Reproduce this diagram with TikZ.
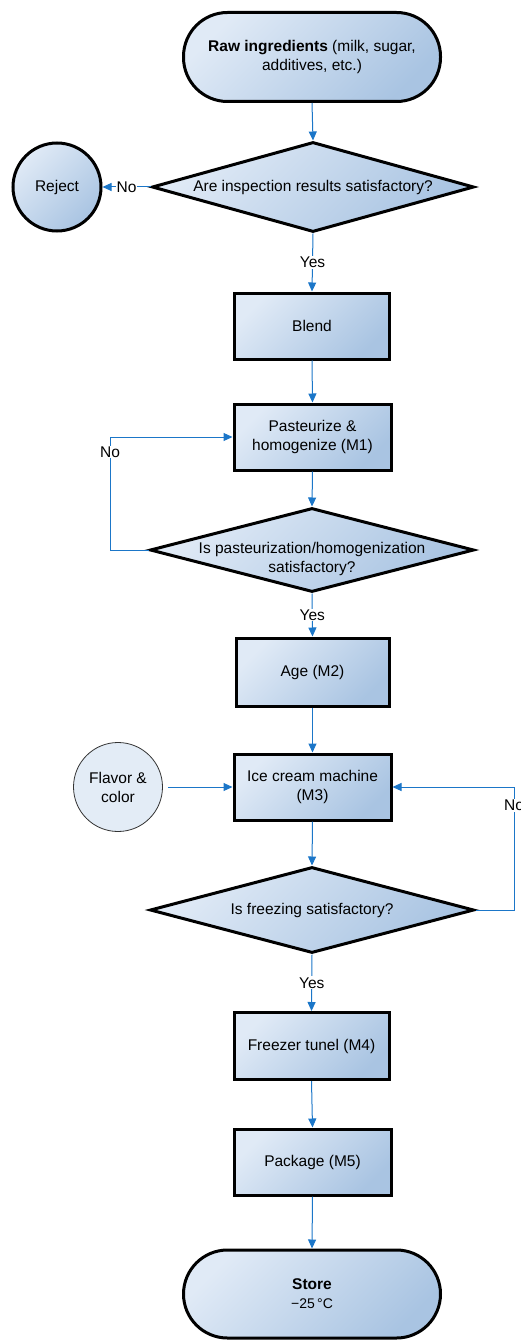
\documentclass[tikz,border=0pt]{standalone}
\usepackage{fontspec}
\setmainfont{Liberation Sans}
\usetikzlibrary{shapes.geometric,arrows.meta}
\definecolor{gradlight}{HTML}{E0EAF6}
\definecolor{graddark}{HTML}{A9C4E2}
\definecolor{lineblue}{HTML}{1B76C8}
\definecolor{flavorfill}{HTML}{E3ECF6}
\tikzset{
  grad/.style={shade, shading=axis, top color=gradlight, bottom color=graddark, shading angle=45},
  txt/.style={font=\fontsize{15.5}{19}\selectfont, align=center},
  term/.style={rectangle, rounded corners=44pt, draw=black, line width=3pt, grad, txt, minimum width=257pt, minimum height=89pt},
  proc/.style={rectangle, draw=black, line width=3pt, grad, txt, minimum width=155pt, minimum height=66pt, inner sep=2pt},
  dec/.style={diamond, draw=black, line width=3pt, grad, inner sep=0pt},
  dtext/.style={txt, inner sep=0pt},
  conn/.style={draw=lineblue, line width=1pt, -{Triangle[length=9pt,width=8pt]}},
  lbl/.style={fill=white, inner sep=1pt, txt},
}
\begin{document}
\begin{tikzpicture}[x=1pt,y=1pt]
\useasboundingbox (0,0) rectangle (520,-1340);
\node[term] (start) at (312,-57) {\textbf{Raw ingredients} (milk, sugar,\\additives, etc.)};
\node[dec, minimum width=322pt, minimum height=90pt, label={[dtext]center:Are inspection results satisfactory?}] (d1) at (313,-187) {};
\node[circle, draw=black, line width=3pt, grad, txt, minimum size=88pt] (reject) at (57,-187) {Reject};
\node[proc] (blend) at (312,-326) {Blend};
\node[proc, minimum width=157pt] (past) at (312.5,-437) {Pasteurize \&\\homogenize (M1)};
\node[dec, minimum width=324pt, minimum height=84pt, label={[dtext, yshift=-9pt]center:{Is pasteurization/homogenization\\satisfactory?}}] (d2) at (312,-550) {};
\node[proc, minimum width=153pt, minimum height=68pt] (age) at (312.5,-672) {Age (M2)};
\node[proc, minimum width=157pt] (ice) at (312.5,-787) {Ice cream machine\\(M3)};
\node[circle, draw=black!80, line width=0.8pt, fill=flavorfill, txt, minimum size=89pt] (flavor) at (118,-787) {Flavor \&\\color};
\node[dec, minimum width=324pt, minimum height=86pt, label={[dtext]center:Is freezing satisfactory?}] (d3) at (312,-910) {};
\node[proc, minimum height=67pt] (freezer) at (311.5,-1046) {Freezer tunel (M4)};
\node[proc, minimum width=157pt] (package) at (312.5,-1162) {Package (M5)};
\node[term, minimum height=88pt] (store) at (312,-1294) {\textbf{Store}\\\fontsize{14}{19}\selectfont −25\,°C};

\coordinate (l1b) at (110,-550);
\coordinate (l1t) at (110,-437);
\coordinate (r1b) at (514,-910);
\coordinate (r1t) at (514,-787);

\draw[conn] (start.south) -- (d1.north);
\draw[conn] (d1.west) -- node[lbl]{No} (reject.east);
\draw[conn] (d1.south) -- node[lbl]{Yes} (blend.north);
\draw[conn] (blend.south) -- (past.north);
\draw[conn] (past.south) -- (d2.north);
\draw[conn] (d2.west) -- (l1b) -- node[lbl, pos=0.867]{No} (l1t) -- (past.west);
\draw[conn] (d2.south) -- node[lbl]{Yes} (age.north);
\draw[conn] (age.south) -- (ice.north);
\draw[conn, shorten <=5pt] (flavor.east) -- (ice.west);
\draw[conn] (ice.south) -- (d3.north);
\draw[conn] (d3.east) -- (r1b) -- node[lbl, pos=0.85]{No} (r1t) -- (ice.east);
\draw[conn] (d3.south) -- node[lbl]{Yes} (freezer.north);
\draw[conn] (freezer.south) -- (package.north);
\draw[conn] (package.south) -- (store.north);
\end{tikzpicture}
\end{document}
